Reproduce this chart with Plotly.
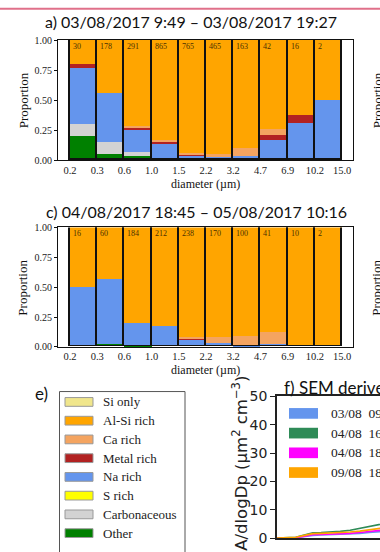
import plotly.graph_objects as go

W, H = 380, 552
SERIF = "Liberation Serif"
SANS = "Lato"
MPL = "DejaVu Sans"

# ---------------- data ----------------
EDGE_LABELS = ["0.2", "0.3", "0.6", "1.0", "1.5", "2.2", "3.2", "4.7", "6.9", "10.2", "15.0"]
Y_TICKS = [0, 0.25, 0.5, 0.75, 1.0]
Y_TICK_LABELS = ["0.00", "0.25", "0.50", "0.75", "1.00"]

CATEGORIES = ["Si only", "Al-Si rich", "Ca rich", "Metal rich", "Na rich", "S rich", "Carbonaceous", "Other"]
CAT_COLORS = ["#F0E68C", "#FFA500", "#F4A460", "#B22222", "#6495ED", "#FFFF00", "#D3D3D3", "#008000"]

# panel a) 03/08/2017 9:49 - 03/08/2017 19:27
A_TITLE = "a) 03/08/2017 9:49 \u2013 03/08/2017 19:27"
A_COUNTS = [30, 178, 291, 865, 765, 465, 163, 42, 16, 2]
A_OTHER = [0.200, 0.056, 0.040, 0.015, 0.005, 0.005, 0.000, 0.024, 0.000, 0.0]
A_CARB = [0.100, 0.100, 0.030, 0.000, 0.000, 0.000, 0.000, 0.000, 0.000, 0.0]
A_S = [0, 0, 0, 0, 0, 0, 0, 0, 0, 0]
A_NA = [0.467, 0.404, 0.180, 0.120, 0.035, 0.025, 0.040, 0.143, 0.3125, 0.5]
A_METAL = [0.033, 0.000, 0.020, 0.025, 0.005, 0.000, 0.000, 0.048, 0.0625, 0.0]
A_CA = [0.000, 0.000, 0.015, 0.010, 0.015, 0.020, 0.060, 0.048, 0.000, 0.0]
A_ALSI = [0.200, 0.440, 0.715, 0.830, 0.940, 0.950, 0.900, 0.737, 0.625, 0.5]
A_SI = [0, 0, 0, 0, 0, 0, 0, 0, 0, 0]

# panel c) 04/08/2017 18:45 - 05/08/2017 10:16
C_TITLE = "c) 04/08/2017 18:45 \u2013 05/08/2017 10:16"
C_COUNTS = [16, 60, 184, 212, 238, 170, 100, 41, 10, 2]
C_OTHER = [0.000, 0.017, 0.005, 0.000, 0.000, 0.000, 0.000, 0.000, 0.0, 0.0]
C_CARB = [0, 0, 0, 0, 0, 0, 0, 0, 0, 0]
C_S = [0, 0, 0, 0, 0, 0, 0, 0, 0, 0]
C_NA = [0.500, 0.550, 0.195, 0.175, 0.055, 0.025, 0.010, 0.024, 0.0, 0.0]
C_METAL = [0.000, 0.000, 0.000, 0.000, 0.010, 0.000, 0.000, 0.000, 0.0, 0.0]
C_CA = [0.000, 0.000, 0.000, 0.000, 0.010, 0.055, 0.080, 0.098, 0.0, 0.0]
C_ALSI = [0.500, 0.433, 0.800, 0.825, 0.925, 0.920, 0.910, 0.878, 1.0, 1.0]
C_SI = [0, 0, 0, 0, 0, 0, 0, 0, 0, 0]

# panel f) SEM derived surface area distributions (visible part only)
F_TITLE = "f) SEM derived surface area size distributions"
F_DIAM = [0.10, 0.12, 0.14, 0.16, 0.19, 0.22, 0.26, 0.31, 0.37, 0.44, 0.52, 0.62, 0.74]
F_LABELS = ["03/08  09:49 \u2013 03/08 19:27", "04/08  16:10 \u2013 04/08 18:30",
            "04/08  18:45 \u2013 05/08 10:16", "09/08  18:00 \u2013 10/08 10:00"]
F_COLORS = ["#6495ED", "#2E8B57", "#FF00FF", "#FFA500"]
F_BLUE = [0.0, 0.05, 0.15, 0.5, 1.0, 1.1, 1.2, 1.3, 1.5, 1.7, 2.0, 2.3, 2.6]
F_GREEN = [0.0, 0.10, 0.30, 1.0, 1.9, 2.0, 2.1, 2.4, 2.8, 3.4, 4.0, 4.8, 5.5]
F_MAGENTA = [0.0, 0.05, 0.20, 0.6, 1.2, 1.3, 1.4, 1.5, 1.7, 2.0, 2.3, 2.7, 3.1]
F_ORANGE = [0.0, 0.10, 0.30, 0.9, 1.6, 1.7, 1.8, 2.0, 2.2, 2.5, 2.9, 3.4, 3.9]


def px(p):
    return p / W


def py(p):
    return 1 - p / H


fig = go.Figure()

centers = [i + 0.5 for i in range(len(A_COUNTS))]


def add_panel(series, counts, xa, ya):
    # stacking order bottom -> top
    order = ["Other", "Carbonaceous", "S rich", "Na rich", "Metal rich", "Ca rich", "Al-Si rich", "Si only"]
    for name in order:
        col = CAT_COLORS[CATEGORIES.index(name)]
        fig.add_trace(go.Bar(x=centers, y=series[name], width=1.0, marker=dict(color=col, line=dict(width=0)),
                             xaxis=xa, yaxis=ya, showlegend=False, hoverinfo="skip"))
    # black bar outlines (drawn in overlay mode because base is set)
    fig.add_trace(go.Bar(x=centers, y=[1.0] * len(counts), base=[0] * len(counts), width=1.0,
                         marker=dict(color="rgba(0,0,0,0)", line=dict(color="#111", width=1.6)),
                         xaxis=xa, yaxis=ya, showlegend=False, hoverinfo="skip"))
    for i, n in enumerate(counts):
        fig.add_annotation(x=i, y=1.0, xref=xa, yref=ya, text=str(n), showarrow=False,
                           xanchor="left", yanchor="top", xshift=1, yshift=0,
                           font=dict(family=SERIF, size=8, color="#4a3000"))


A_SERIES = {"Other": A_OTHER, "Carbonaceous": A_CARB, "S rich": A_S, "Na rich": A_NA,
            "Metal rich": A_METAL, "Ca rich": A_CA, "Al-Si rich": A_ALSI, "Si only": A_SI}
C_SERIES = {"Other": C_OTHER, "Carbonaceous": C_CARB, "S rich": C_S, "Na rich": C_NA,
            "Metal rich": C_METAL, "Ca rich": C_CA, "Al-Si rich": C_ALSI, "Si only": C_SI}

add_panel(A_SERIES, A_COUNTS, "x", "y")
add_panel(C_SERIES, C_COUNTS, "x2", "y2")

for vals, col in zip([F_BLUE, F_GREEN, F_MAGENTA, F_ORANGE], F_COLORS):
    fig.add_trace(go.Scatter(x=F_DIAM, y=vals, mode="lines", line=dict(color=col, width=1.6),
                             xaxis="x3", yaxis="y3", showlegend=False, hoverinfo="skip"))

bar_x = dict(range=[-0.44, 10.4], tickmode="array", tickvals=list(range(len(EDGE_LABELS))),
             ticktext=EDGE_LABELS, ticks="", showline=True, mirror=True, linecolor="#111", linewidth=1,
             showgrid=False, zeroline=False, tickfont=dict(family=SERIF, size=10.5, color="#222"))
bar_y = dict(range=[0, 1], tickmode="array", tickvals=Y_TICKS, ticktext=Y_TICK_LABELS, ticks="outside",
             ticklen=3, tickcolor="#111", showline=True, mirror=True, linecolor="#111", linewidth=1,
             showgrid=False, zeroline=False, tickfont=dict(family=SERIF, size=10, color="#222"))

fig.update_layout(
    width=W, height=H, margin=dict(l=0, r=0, t=0, b=0),
    paper_bgcolor="white", plot_bgcolor="white",
    barmode="stack", bargap=0,
    xaxis=dict(domain=[px(58), px(353)], anchor="y", **bar_x),
    yaxis=dict(domain=[py(157), py(33)], anchor="x", **bar_y),
    xaxis2=dict(domain=[px(58), px(353)], anchor="y2", **bar_x),
    yaxis2=dict(domain=[py(349), py(226)], anchor="x2", **bar_y),
    xaxis3=dict(domain=[px(277), 1.0], anchor="y3", type="log", range=[-1, -0.2], showticklabels=False,
                ticks="", showline=True, mirror=True, linecolor="#222", linewidth=1.5, showgrid=False,
                zeroline=False),
    yaxis3=dict(domain=[py(546), py(400)], anchor="x3", range=[0, 50], dtick=10, ticks="outside",
                ticklen=5, tickcolor="#222", showline=True, linecolor="#222", linewidth=1.5,
                showgrid=False, zeroline=False, tickfont=dict(family=MPL, size=14, color="#222")),
)

ann = []
# titles
ann.append(dict(x=px(191), y=py(14), text=A_TITLE, font=dict(family=SANS, size=16, color="#111")))
ann.append(dict(x=px(196), y=py(210), text=C_TITLE, font=dict(family=SANS, size=16, color="#111")))
# axis titles
for yc in (181, 373):
    ann.append(dict(x=px(205.5), y=py(yc), text="diameter (\u00b5m)", font=dict(family=SERIF, size=12, color="#111")))
for yc in (95, 288):
    ann.append(dict(x=px(23), y=py(yc), text="Proportion", textangle=-90,
                    font=dict(family=SERIF, size=13, color="#111")))
    ann.append(dict(x=px(377), y=py(yc), text="Proportion", textangle=-90,
                    font=dict(family=SERIF, size=13, color="#111")))
# panel e label
ann.append(dict(x=px(41), y=py(397), text="e)", font=dict(family=SANS, size=17, color="#111")))
# panel f title and y-title
ann.append(dict(x=px(282), y=py(391), text=F_TITLE, xanchor="left", font=dict(family=SANS, size=17, color="#111")))
ann.append(dict(x=px(240), y=py(474), text="dA/dlogDp (\u00b5m<sup>2</sup> cm<sup>\u22123</sup>)", textangle=-90,
                font=dict(family=MPL, size=16.5, color="#222")))

shapes = []
# top border fragment
shapes.append(dict(type="line", xref="paper", yref="paper", x0=0, x1=1, y0=py(0.8), y1=py(0.8),
                   line=dict(color="#E0708A", width=2)))
# legend e box
shapes.append(dict(type="rect", xref="paper", yref="paper", x0=px(59.5), x1=px(185), y0=py(570), y1=py(395),
                   line=dict(color="#555", width=1), fillcolor="white"))
for i, (name, col) in enumerate(zip(CATEGORIES, CAT_COLORS)):
    yc = 405.7 + i * 19.3
    shapes.append(dict(type="rect", xref="paper", yref="paper", x0=px(65), x1=px(93), y0=py(yc + 4.5),
                       y1=py(yc - 4.5), line=dict(color="#999", width=1), fillcolor=col))
    ann.append(dict(x=px(101), y=py(yc), text=name, xanchor="left",
                    font=dict(family=SERIF, size=13, color="#222")))
# legend f
for i, (lab, col) in enumerate(zip(F_LABELS, F_COLORS)):
    yc = 417.5 + i * 20.3
    shapes.append(dict(type="rect", xref="paper", yref="paper", x0=px(289), x1=px(318), y0=py(yc + 5.5),
                       y1=py(yc - 5.5), line=dict(color=col, width=0), fillcolor=col))
    ann.append(dict(x=px(329), y=py(yc), text=lab, xanchor="left",
                    font=dict(family=SERIF, size=13.5, color="#222")))

for a in ann:
    a.setdefault("xref", "paper")
    a.setdefault("yref", "paper")
    a.setdefault("showarrow", False)
    a.setdefault("xanchor", "center")
    a.setdefault("yanchor", "middle")
    fig.add_annotation(**a)

fig.update_layout(shapes=shapes)

fig.write_html("out.html")
